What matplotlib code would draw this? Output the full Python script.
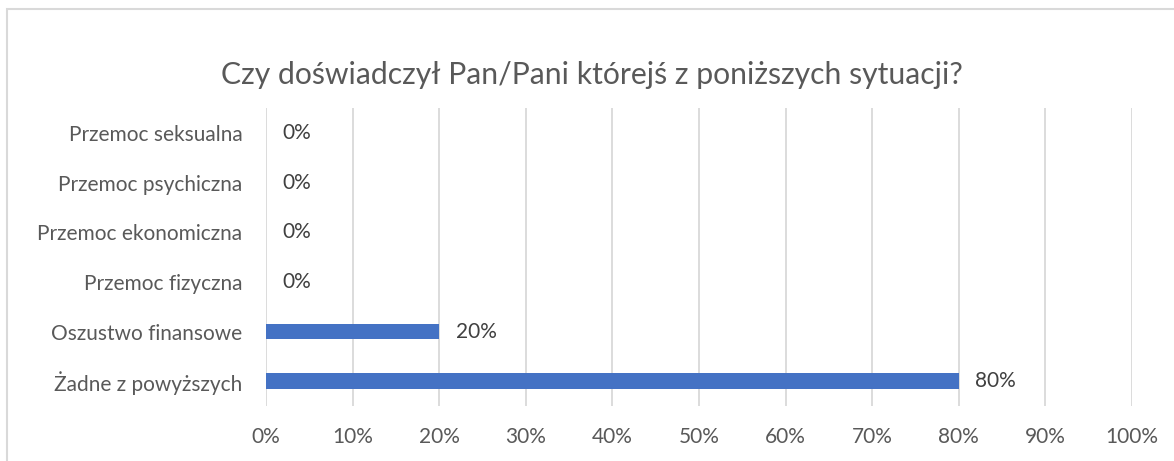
import matplotlib.pyplot as plt
import numpy as np

categories = ["Żadne z powyższych", "Oszustwo finansowe", "Przemoc fizyczna",
              "Przemoc ekonomiczna", "Przemoc psychiczna", "Przemoc seksualna"]
values = [80, 20, 0, 0, 0, 0]
title = "Czy doświadczył Pan/Pani którejś z poniższych sytuacji?"
xticks = [0, 10, 20, 30, 40, 50, 60, 70, 80, 90, 100]

plt.rcParams['font.family'] = ['Lato', 'DejaVu Sans']
txt = "#595959"
grid = "#D9D9D9"

fig = plt.figure(figsize=(11.74, 4.61), dpi=100)
# ramka wykresu (jak w Excelu)
fig.patches.append(plt.Rectangle((7 / 1174, -0.1), 1.2, 1 - 9 / 461 + 0.1,
                                 transform=fig.transFigure, fill=False,
                                 edgecolor=grid, linewidth=1.5))

ax = fig.add_axes([266 / 1174, 1 - 406 / 461, (1132 - 266) / 1174, (406 - 108) / 461])
y = np.arange(len(categories))
ax.barh(y, values, height=0.31, color="#4472C4", zorder=3)
for yi, v in zip(y, values):
    ax.text(v + 1.9, yi, f"{v}%", va="center", ha="left", fontsize=15, color="#404040")

ax.set_xlim(0, 100)
ax.set_ylim(-0.5, len(categories) - 0.5)
ax.set_xticks(xticks)
ax.set_xticklabels([f"{t}%" for t in xticks], fontsize=15, color=txt)
ax.set_yticks(y)
ax.set_yticklabels(categories, fontsize=15, color=txt)
ax.tick_params(length=0)
ax.tick_params(axis="y", pad=17)
ax.tick_params(axis="x", pad=15)
ax.grid(axis="x", color=grid, linewidth=1.3, zorder=0)
for s in ax.spines.values():
    s.set_visible(False)

fig.text(592 / 1174, 1 - 75 / 461, title, ha="center", va="center", fontsize=21.7, color=txt)

fig.savefig("out.png", dpi=100)
